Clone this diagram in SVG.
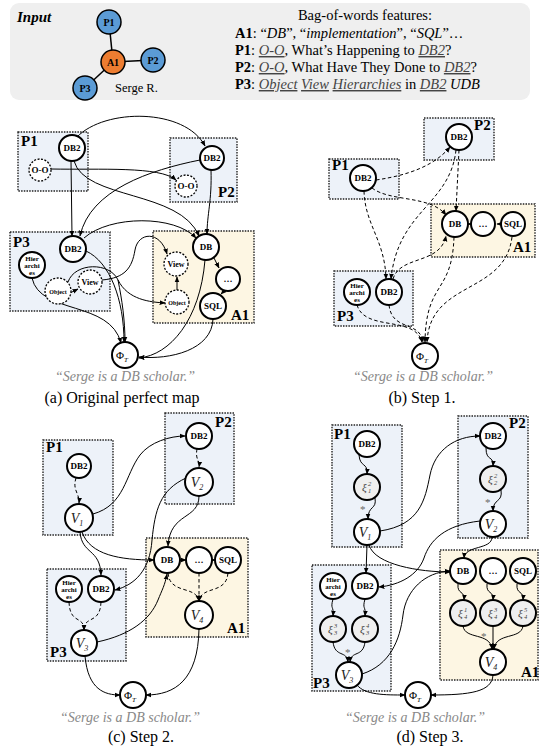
<svg xmlns="http://www.w3.org/2000/svg" width="540" height="748" viewBox="0 0 540 748">
<style>
text{font-family:"Liberation Serif","Times New Roman",serif;fill:#000}
.bb{fill:#edf2f9;stroke:#222;stroke-width:1.4;stroke-dasharray:1.5 1.2}
.by{fill:#fdf6e3;stroke:#222;stroke-width:1.4;stroke-dasharray:1.5 1.2}
.n{fill:#fff;stroke:#000;stroke-width:2}
.nd{fill:#fff;stroke:#000;stroke-width:1.3;stroke-dasharray:2 1.5}
.nx{fill:#efefef;stroke:#000;stroke-width:2}
.e{fill:none;stroke:#000;stroke-width:1;marker-end:url(#ah)}
.ed{fill:none;stroke:#000;stroke-width:1;stroke-dasharray:3.5 2.5;marker-end:url(#ah)}
.l{font-size:9px;font-weight:bold;text-anchor:middle}
.ls{font-size:7px;font-weight:bold;text-anchor:middle}
.bl{font-size:15px;font-weight:bold}
.v{font-size:14px;font-style:italic;text-anchor:middle;fill:#222}
.vs{font-size:8px}
.xi{font-size:11px;font-style:italic;fill:#444}
.ss{font-size:6.5px;font-style:italic;fill:#444}
.st{font-size:11px;fill:#666}
.q{font-size:14px;font-style:italic;fill:#888;text-anchor:middle}
.cap{font-size:16px;text-anchor:middle}
.t{font-size:14.5px}
.u{text-decoration:underline;font-style:italic;fill:#444}
</style>
<defs>
<marker id="ah" viewBox="0 0 10 10" refX="9" refY="5" markerWidth="6" markerHeight="6" orient="auto" markerUnits="userSpaceOnUse"><path d="M0,1 L10,5 L0,9 z" fill="#000"/></marker>
</defs>

<!-- Input panel -->
<g id="input">
<rect x="10" y="3" width="520" height="97" rx="9" fill="#efefef"/>
<text x="17" y="22" style="font-size:15px;font-weight:bold;font-style:italic">Input</text>
<g stroke="#000" stroke-width="1.5"><line x1="109" y1="22" x2="113" y2="62"/><line x1="113" y1="62" x2="153" y2="60"/><line x1="113" y1="62" x2="85" y2="88"/></g>
<g id="in-P1"><circle cx="109" cy="22" r="12" fill="#5b9bd5" stroke="#000" stroke-width="1.5"/><text class="l" x="109" y="25.5" style="font-size:10px">P1</text></g>
<g id="in-A1"><circle cx="113" cy="62" r="12" fill="#ed7d31" stroke="#000" stroke-width="1.5"/><text class="l" x="113" y="65.5" style="font-size:10px">A1</text></g>
<g id="in-P2"><circle cx="153" cy="60" r="12" fill="#5b9bd5" stroke="#000" stroke-width="1.5"/><text class="l" x="153" y="63.5" style="font-size:10px">P2</text></g>
<g id="in-P3"><circle cx="85" cy="88" r="12" fill="#5b9bd5" stroke="#000" stroke-width="1.5"/><text class="l" x="85" y="91.5" style="font-size:10px">P3</text></g>
<text x="115" y="92" style="font-size:12.5px">Serge R.</text>
<text class="t" x="365" y="20" text-anchor="middle">Bag-of-words features:</text>
<text class="t" x="235" y="38"><tspan font-weight="bold">A1</tspan>: “<tspan font-style="italic">DB</tspan>”, “<tspan font-style="italic">implementation</tspan>”, “<tspan font-style="italic">SQL</tspan>”…</text>
<text class="t" x="235" y="55"><tspan font-weight="bold">P1</tspan>:  <tspan class="u">O-O</tspan>, What’s Happening to <tspan class="u">DB2</tspan>?</text>
<text class="t" x="235" y="72"><tspan font-weight="bold">P2</tspan>:  <tspan class="u">O-O</tspan>, What Have They Done to <tspan class="u">DB2</tspan>?</text>
<text class="t" x="235" y="89"><tspan font-weight="bold">P3</tspan>:  <tspan class="u">Object</tspan> <tspan class="u">View</tspan> <tspan class="u">Hierarchies</tspan> in <tspan class="u">DB2</tspan> <tspan font-style="italic">UDB</tspan></text>
</g>

<!-- ========== Panel (a) ========== -->
<g id="a-boxes">
<rect class="bb" x="18" y="132" width="70" height="59"/>
<rect class="bb" x="170" y="138" width="67" height="64"/>
<rect class="bb" x="10" y="232" width="100" height="79"/>
<rect class="by" x="153" y="231" width="101" height="92"/>
<text class="bl" x="21" y="146">P1</text>
<text class="bl" x="218" y="197">P2</text>
<text class="bl" x="13" y="247">P3</text>
<text class="bl" x="231" y="320">A1</text>
</g>
<g id="a-edges">
<path class="e" d="M77,137 C105,108 185,108 205,146"/>
<path class="e" d="M51,169 C100,170 160,166 176,180"/>
<path class="e" d="M71,161 L72,236"/>
<path class="e" d="M74,161 C85,200 180,190 199,236"/>
<path class="e" d="M200,160 C150,170 90,190 80,236"/>
<path class="e" d="M211,170 C212,200 207,215 207,234"/>
<path class="e" d="M84,238 C110,215 175,215 196,238"/>
<path class="e" d="M102,280 C125,278 132,268 135,250 C138,232 160,230 167,254"/>
<path class="e" d="M68,282 C75,262 110,262 118,280 C128,300 150,302 165,303"/>
<path class="e" d="M118,280 C122,300 125,320 125,342"/>
<path class="e" d="M70,293 L78,289"/>
<path class="e" d="M177,290 L177,277"/>
<path class="e" d="M214,258 L219,268"/>
<path class="e" d="M225,290 L221,294"/>
<path class="e" d="M86,251 C110,262 124,300 124,342"/>
<path class="e" d="M32,278 C40,315 110,300 121,343"/>
<path class="e" d="M205,260 C200,320 170,355 139,358"/>
<path class="e" d="M213,319 C212,350 170,360 139,357"/>
</g>
<g id="a-P1-DB2"><circle class="n" cx="72" cy="148" r="13"/><text class="l" x="72" y="151">DB2</text></g>
<g id="a-P1-OO"><circle class="nd" cx="40" cy="170" r="11"/><text class="l" x="40" y="173">O-O</text></g>
<g id="a-P2-DB2"><circle class="n" cx="212" cy="158" r="12"/><text class="l" x="212" y="161">DB2</text></g>
<g id="a-P2-OO"><circle class="nd" cx="186" cy="186" r="11"/><text class="l" x="186" y="189">O-O</text></g>
<g id="a-P3-DB2"><circle class="n" cx="73" cy="249" r="13"/><text class="l" x="73" y="252">DB2</text></g>
<g id="a-P3-Hier"><circle class="n" cx="32" cy="265" r="13"/><text class="ls" x="32" y="261">Hier</text><text class="ls" x="32" y="268">archi</text><text class="ls" x="32" y="275">es</text></g>
<g id="a-P3-Obj"><circle class="nd" cx="58" cy="291" r="13"/><text class="ls" x="58" y="293.5" style="font-size:6px">Object</text></g>
<g id="a-P3-View"><circle class="nd" cx="90" cy="282" r="12"/><text class="ls" x="90" y="285" style="font-size:8px">View</text></g>
<g id="a-A1-DB"><circle class="n" cx="206" cy="247" r="13"/><text class="l" x="206" y="250">DB</text></g>
<g id="a-A1-dots"><circle class="n" cx="228" cy="279" r="12"/><text class="l" x="228" y="282">…</text></g>
<g id="a-A1-SQL"><circle class="n" cx="213" cy="306" r="13"/><text class="l" x="213" y="309">SQL</text></g>
<g id="a-A1-View"><circle class="nd" cx="176" cy="264" r="12"/><text class="ls" x="176" y="267" style="font-size:8px">View</text></g>
<g id="a-A1-Obj"><circle class="nd" cx="177" cy="302" r="12"/><text class="ls" x="177" y="304.5" style="font-size:6px">Object</text></g>
<g id="a-Phi"><circle class="n" cx="125" cy="355" r="13"/><text x="122" y="359" style="font-size:11px;text-anchor:middle">Φ<tspan style="font-size:7px;font-style:italic" dy="3">T</tspan></text></g>
<text class="q" x="125" y="381">“Serge is a DB scholar.”</text>
<text class="cap" x="122" y="403">(a) Original perfect map</text>

<!-- ========== Panel (b) ========== -->
<g id="b-boxes">
<rect class="bb" x="424" y="118" width="70" height="42"/>
<rect class="bb" x="329" y="159" width="70" height="40"/>
<rect class="by" x="431" y="204" width="104" height="53"/>
<rect class="bb" x="334" y="271" width="79" height="55"/>
<text class="bl" x="474" y="130">P2</text>
<text class="bl" x="332" y="170">P1</text>
<text class="bl" x="513" y="252">A1</text>
<text class="bl" x="337" y="321">P3</text>
</g>
<g id="b-edges">
<path class="ed" d="M376,180 C410,175 435,165 450,147"/>
<path class="ed" d="M372,188 C390,202 430,195 446,215"/>
<path class="ed" d="M459,150 L456,211"/>
<path class="ed" d="M364,191 C365,225 385,240 386,279"/>
<path class="ed" d="M456,150 C450,205 398,210 391,279"/>
<path class="ed" d="M393,279 C400,255 440,265 446,236"/>
<path class="ed" d="M454,237 C452,295 426,280 425,342"/>
<path class="ed" d="M512,237 C505,295 430,280 427,342"/>
<path class="ed" d="M357,305 C365,332 415,315 422,342"/>
<path class="ed" d="M389,305 C392,332 420,320 423,342"/>
<path class="e" d="M471,224 L468,224"/>
<path class="e" d="M501,224 L497,224"/>
</g>
<g id="b-P1-DB2"><circle class="n" cx="363" cy="178" r="13"/><text class="l" x="363" y="181">DB2</text></g>
<g id="b-P2-DB2"><circle class="n" cx="459" cy="137" r="13"/><text class="l" x="459" y="140">DB2</text></g>
<g id="b-A1-DB"><circle class="n" cx="455" cy="224" r="13"/><text class="l" x="455" y="227">DB</text></g>
<g id="b-A1-dots"><circle class="n" cx="483" cy="224" r="12"/><text class="l" x="483" y="227">…</text></g>
<g id="b-A1-SQL"><circle class="n" cx="513" cy="224" r="12"/><text class="l" x="513" y="227">SQL</text></g>
<g id="b-P3-Hier"><circle class="n" cx="357" cy="292" r="13"/><text class="ls" x="357" y="288">Hier</text><text class="ls" x="357" y="295">archi</text><text class="ls" x="357" y="302">es</text></g>
<g id="b-P3-DB2"><circle class="n" cx="389" cy="292" r="13"/><text class="l" x="389" y="295">DB2</text></g>
<g id="b-Phi"><circle class="n" cx="425" cy="356" r="13"/><text x="422" y="360" style="font-size:11px;text-anchor:middle">Φ<tspan style="font-size:7px;font-style:italic" dy="3">T</tspan></text></g>
<text class="q" x="423" y="381">“Serge is a DB scholar.”</text>
<text class="cap" x="422" y="403">(b) Step 1.</text>

<!-- ========== Panel (c) ========== -->
<g id="c-boxes">
<rect class="bb" x="165" y="413" width="69" height="91"/>
<rect class="bb" x="43" y="440" width="70" height="95"/>
<rect class="by" x="146" y="538" width="102" height="99"/>
<rect class="bb" x="47" y="569" width="79" height="92"/>
<text class="bl" x="215" y="427">P2</text>
<text class="bl" x="46" y="452">P1</text>
<text class="bl" x="227" y="633">A1</text>
<text class="bl" x="50" y="657">P3</text>
</g>
<g id="c-edges">
<path class="ed" d="M76,478 C72,490 80,494 79,503"/>
<path class="ed" d="M197,449 C195,460 200,460 199,467"/>
<path class="e" d="M93,514 C125,505 125,475 140,455 C150,442 170,436 185,436"/>
<path class="e" d="M186,478 C160,490 155,510 152,540 C150,570 135,585 115,590"/>
<path class="e" d="M199,496 C199,520 170,512 168,546"/>
<path class="e" d="M80,532 C82,555 100,548 101,575"/>
<path class="e" d="M82,532 C90,555 120,560 154,560"/>
<path class="e" d="M97,642 C130,635 150,620 158,600 C162,590 165,585 167,574"/>
<path class="e" d="M180,560 L186,560"/>
<path class="e" d="M212,560 L215,560"/>
<path class="ed" d="M168,573 C170,595 196,585 199,601"/>
<path class="ed" d="M199,573 L199,601"/>
<path class="ed" d="M228,573 C226,595 202,585 199,601"/>
<path class="ed" d="M69,602 C70,625 84,615 84,630"/>
<path class="ed" d="M101,602 C100,625 84,615 84,630"/>
<path class="e" d="M85,656 C88,690 105,695 120,695"/>
<path class="e" d="M199,629 C198,680 175,695 146,695"/>
</g>
<g id="c-P1-DB2"><circle class="n" cx="79" cy="466" r="12"/><text class="l" x="79" y="469">DB2</text></g>
<g id="c-V1"><circle class="n" cx="79" cy="518" r="14"/><text class="v" x="77" y="523">V<tspan class="vs" dy="3">1</tspan></text></g>
<g id="c-P2-DB2"><circle class="n" cx="199" cy="436" r="13"/><text class="l" x="199" y="439">DB2</text></g>
<g id="c-V2"><circle class="n" cx="199" cy="482" r="14"/><text class="v" x="197" y="487">V<tspan class="vs" dy="3">2</tspan></text></g>
<g id="c-A1-DB"><circle class="n" cx="167" cy="560" r="13"/><text class="l" x="167" y="563">DB</text></g>
<g id="c-A1-dots"><circle class="n" cx="199" cy="560" r="13"/><text class="l" x="199" y="563">…</text></g>
<g id="c-A1-SQL"><circle class="n" cx="228" cy="560" r="13"/><text class="l" x="228" y="563">SQL</text></g>
<g id="c-V4"><circle class="n" cx="199" cy="615" r="14"/><text class="v" x="197" y="620">V<tspan class="vs" dy="3">4</tspan></text></g>
<g id="c-P3-Hier"><circle class="n" cx="69" cy="589" r="13"/><text class="ls" x="69" y="585">Hier</text><text class="ls" x="69" y="592">archi</text><text class="ls" x="69" y="599">es</text></g>
<g id="c-P3-DB2"><circle class="n" cx="101" cy="589" r="13"/><text class="l" x="101" y="592">DB2</text></g>
<g id="c-V3"><circle class="n" cx="84" cy="643" r="13"/><text class="v" x="82" y="648">V<tspan class="vs" dy="3">3</tspan></text></g>
<g id="c-Phi"><circle class="n" cx="133" cy="695" r="13"/><text x="130" y="699" style="font-size:11px;text-anchor:middle">Φ<tspan style="font-size:7px;font-style:italic" dy="3">T</tspan></text></g>
<text class="q" x="130" y="722">“Serge is a DB scholar.”</text>
<text class="cap" x="141" y="742">(c) Step 2.</text>

<!-- ========== Panel (d) ========== -->
<g id="d-boxes">
<rect class="bb" x="332" y="425" width="70" height="122"/>
<rect class="bb" x="458" y="416" width="70" height="122"/>
<rect class="by" x="440" y="550" width="98" height="130"/>
<rect class="bb" x="312" y="565" width="79" height="126"/>
<text class="bl" x="334" y="439">P1</text>
<text class="bl" x="509" y="428">P2</text>
<text class="bl" x="521" y="677">A1</text>
<text class="bl" x="313" y="688">P3</text>
</g>
<g id="d-edges">
<path class="e" d="M359,455 C360,468 368,462 367,474"/>
<path class="e" d="M375,498 C377,510 368,505 368,519"/>
<path class="e" d="M486,448 C486,462 494,455 493,466"/>
<path class="e" d="M501,490 C503,503 493,498 493,511"/>
<path class="e" d="M380,531 C420,525 425,500 430,475 C435,450 455,436 480,436"/>
<path class="e" d="M367,545 L366,573"/>
<path class="e" d="M369,545 C375,565 420,572 450,572"/>
<path class="e" d="M480,521 C445,525 430,540 424,558 C418,575 400,585 379,587"/>
<path class="e" d="M492,537 C492,550 465,545 464,558"/>
<path class="e" d="M362,674 C390,665 400,640 403,615 C406,590 425,572 450,571"/>
<path class="e" d="M458,584 C457,595 465,590 464,600"/>
<path class="e" d="M487,584 C486,595 494,590 493,600"/>
<path class="e" d="M517,584 C516,595 524,590 523,600"/>
<path class="e" d="M463,626 C465,640 490,632 492,649"/>
<path class="e" d="M493,626 L493,649"/>
<path class="e" d="M523,626 C521,640 496,632 494,649"/>
<path class="e" d="M333,599 C330,610 334,605 333,616"/>
<path class="e" d="M365,599 C362,610 366,605 365,616"/>
<path class="e" d="M333,642 C335,658 347,650 348,662"/>
<path class="e" d="M365,642 C363,658 351,650 350,662"/>
<path class="e" d="M357,685 C365,695 385,695 405,695"/>
<path class="e" d="M493,675 C492,692 470,695 431,695"/>
</g>
<text class="st" x="360" y="513">*</text>
<text class="st" x="485" y="506">*</text>
<text class="st" x="481" y="640">*</text>
<text class="st" x="345" y="656">*</text>
<g id="d-P1-DB2"><circle class="n" cx="367" cy="444" r="13"/><text class="l" x="367" y="447">DB2</text></g>
<g id="d-xi1"><circle class="nx" cx="367" cy="487" r="13"/><text class="xi" x="362" y="491">ξ<tspan class="ss" x="368" y="486">2</tspan><tspan class="ss" x="368" y="493">1</tspan></text></g>
<g id="d-V1"><circle class="n" cx="367" cy="532" r="13"/><text class="v" x="365" y="537">V<tspan class="vs" dy="3">1</tspan></text></g>
<g id="d-P2-DB2"><circle class="n" cx="493" cy="436" r="13"/><text class="l" x="493" y="439">DB2</text></g>
<g id="d-xi2"><circle class="nx" cx="493" cy="479" r="13"/><text class="xi" x="488" y="483">ξ<tspan class="ss" x="494" y="478">2</tspan><tspan class="ss" x="494" y="485">2</tspan></text></g>
<g id="d-V2"><circle class="n" cx="493" cy="524" r="13"/><text class="v" x="491" y="529">V<tspan class="vs" dy="3">2</tspan></text></g>
<g id="d-A1-DB"><circle class="n" cx="463" cy="571" r="13"/><text class="l" x="463" y="574">DB</text></g>
<g id="d-A1-dots"><circle class="n" cx="493" cy="571" r="13"/><text class="l" x="493" y="574">…</text></g>
<g id="d-A1-SQL"><circle class="n" cx="523" cy="571" r="13"/><text class="l" x="523" y="574">SQL</text></g>
<g id="d-xi41"><circle class="nx" cx="463" cy="613" r="13"/><text class="xi" x="458" y="617">ξ<tspan class="ss" x="464" y="612">1</tspan><tspan class="ss" x="464" y="619">4</tspan></text></g>
<g id="d-xi43"><circle class="nx" cx="493" cy="613" r="13"/><text class="xi" x="488" y="617">ξ<tspan class="ss" x="494" y="612">3</tspan><tspan class="ss" x="494" y="619">4</tspan></text></g>
<g id="d-xi45"><circle class="nx" cx="523" cy="613" r="13"/><text class="xi" x="518" y="617">ξ<tspan class="ss" x="524" y="612">5</tspan><tspan class="ss" x="524" y="619">4</tspan></text></g>
<g id="d-V4"><circle class="n" cx="493" cy="662" r="13"/><text class="v" x="491" y="667">V<tspan class="vs" dy="3">4</tspan></text></g>
<g id="d-P3-Hier"><circle class="n" cx="333" cy="586" r="13"/><text class="ls" x="333" y="582">Hier</text><text class="ls" x="333" y="589">archi</text><text class="ls" x="333" y="596">es</text></g>
<g id="d-P3-DB2"><circle class="n" cx="365" cy="586" r="13"/><text class="l" x="365" y="589">DB2</text></g>
<g id="d-xi33"><circle class="nx" cx="333" cy="629" r="13"/><text class="xi" x="328" y="633">ξ<tspan class="ss" x="334" y="628">3</tspan><tspan class="ss" x="334" y="635">3</tspan></text></g>
<g id="d-xi34"><circle class="nx" cx="365" cy="629" r="13"/><text class="xi" x="360" y="633">ξ<tspan class="ss" x="366" y="628">4</tspan><tspan class="ss" x="366" y="635">3</tspan></text></g>
<g id="d-V3"><circle class="n" cx="349" cy="675" r="13"/><text class="v" x="347" y="680">V<tspan class="vs" dy="3">3</tspan></text></g>
<g id="d-Phi"><circle class="n" cx="418" cy="695" r="13"/><text x="415" y="699" style="font-size:11px;text-anchor:middle">Φ<tspan style="font-size:7px;font-style:italic" dy="3">T</tspan></text></g>
<text class="q" x="415" y="722">“Serge is a DB scholar.”</text>
<text class="cap" x="430" y="742">(d) Step 3.</text>
</svg>
